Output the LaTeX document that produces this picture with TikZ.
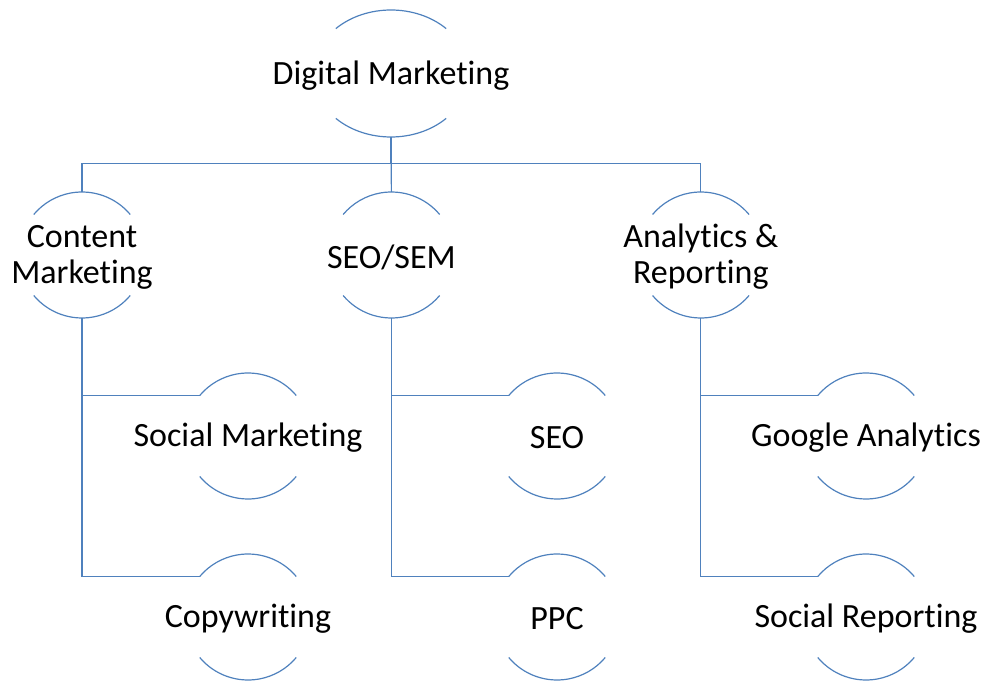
\documentclass[tikz,border=0pt]{standalone}
\usepackage{fontspec}
\setmainfont[RawFeature={-liga;-clig;-calt;-dlig;-rlig}]{Carlito}
\usetikzlibrary{positioning, shapes.geometric}
\definecolor{linkblue}{HTML}{4F81BD}

\begin{document}
\begin{tikzpicture}[
    x=1pt, y=1pt,
    node distance=183pt and 183pt,
    bubble/.style={circle, minimum size=126pt, inner sep=0pt},
    rootbubble/.style={ellipse, minimum width=156pt, minimum height=127pt, inner sep=0pt},
    caption/.style={font=\fontsize{34}{36}\selectfont, align=center, text=black, yshift=-2pt},
    rim/.style={draw=linkblue, line width=1.2pt},
    link/.style={draw=linkblue, line width=1.2pt}
]
\useasboundingbox (0,0) rectangle (987,680);

% Nodes
\node[rootbubble, label={[caption]center:Digital Marketing}] (root) at (391,606.5) {};
\node[bubble, label={[caption]center:Content\\Marketing}] (content) at (82,425) {};
\node[bubble, right=of content, label={[caption]center:SEO/SEM}] (seosem) {};
\node[bubble, right=of seosem, label={[caption]center:Analytics \&\\Reporting}] (analytics) {};

\node[bubble, label={[caption]center:Social Marketing}] (social) at (248,244) {};
\node[bubble, label={[caption]center:Copywriting}] (copy) at (248,63) {};
\node[bubble, label={[caption]center:SEO}] (seo) at (557,244) {};
\node[bubble, label={[caption]center:PPC}] (ppc) at (557,63) {};
\node[bubble, label={[caption]center:Google Analytics}] (google) at (866,244) {};
\node[bubble, label={[caption]center:Social Reporting}] (socrep) at (866,63) {};

% Arcs
\draw[rim] (root.center) ++(45:78 and 63.5) arc[start angle=45, end angle=135, x radius=78, y radius=63.5]
           (root.center) ++(225:78 and 63.5) arc[start angle=225, end angle=315, x radius=78, y radius=63.5];
\foreach \n in {content, seosem, analytics, social, copy, seo, ppc, google, socrep}
  \draw[rim] (\n.center) ++(40:63) arc[start angle=40, end angle=140, radius=63]
             (\n.center) ++(220:63) arc[start angle=220, end angle=320, radius=63];

% Edges
\draw[link] (root.south) -- ++(0,-26) -| (content.north);
\draw[link] (root.south) -- ++(0,-26) -| (analytics.north);
\draw[link] (root.south) -- (seosem.north);

\foreach \p/\c in {content/social, content/copy, seosem/seo, seosem/ppc, analytics/google, analytics/socrep}
  \draw[link] (\p.south) |- (\c.140);

\end{tikzpicture}
\end{document}
